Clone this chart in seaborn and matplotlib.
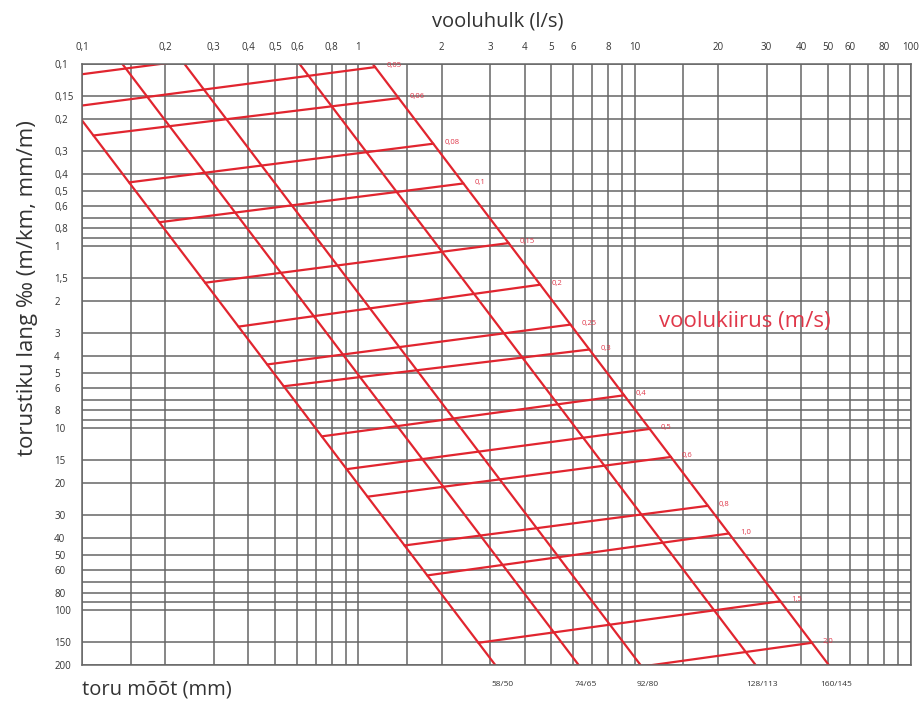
import numpy as np
import pandas as pd
import seaborn as sns
import matplotlib
matplotlib.use("Agg")
import matplotlib.pyplot as plt
from matplotlib.ticker import NullFormatter

# pipe lines (outer/inner mm), read as flow (l/s) at 0.1 and 200 per mille
pipe_labels = ["58/50", "74/65", "92/80", "128/113", "160/145"]
q_at_top = [0.070, 0.140, 0.235, 0.613, 1.128]
q_at_bottom = [3.13, 6.27, 10.5, 27.4, 50.4]

# velocity lines (m/s): gradient where they meet the first and last pipe line
vel_labels = ["", "0,05", "0,06", "0,08", "0,1", "0,15", "0,2", "0,25", "0,3",
              "0,4", "0,5", "0,6", "0,8", "1,0", "1,5", "2,0"]
j_right = [0.0726, 0.104, 0.154, 0.274, 0.453, 0.963, 1.63, 2.70, 3.70,
           6.60, 10.1, 14.4, 26.7, 37.9, 89.3, 151]
j_left = [0.120, 0.172, 0.247, 0.447, 0.740, 1.59, 2.77, 4.47, 5.89,
          11.1, 16.8, 23.8, 44.1, 64.4, 151, 257]

x_ticks = [0.1, 0.2, 0.3, 0.4, 0.5, 0.6, 0.8, 1, 2, 3, 4, 5, 6, 8, 10,
           20, 30, 40, 50, 60, 80, 100]
x_extra = [0.15, 0.7, 0.9, 1.5, 7, 9, 15, 70, 90]
y_ticks = [0.1, 0.15, 0.2, 0.3, 0.4, 0.5, 0.6, 0.8, 1, 1.5, 2, 3, 4, 5, 6, 8,
           10, 15, 20, 30, 40, 50, 60, 80, 100, 150, 200]
y_extra = [0.7, 0.9, 7, 9, 70, 90]

J_MIN, J_MAX = 0.1, 200
RED = "#e1252f"
LABEL_RED = "#e0384a"
GRID = "#666666"
TXT = "#333333"


def fmt(v):
    s = f"{v:g}"
    return s.replace(".", ",")


def q_on_pipe(i, j):
    """flow on pipe line i at gradient j (straight in log-log)"""
    t = (np.log10(j) - np.log10(J_MIN)) / (np.log10(J_MAX) - np.log10(J_MIN))
    lq = np.log10(q_at_top[i]) + t * (np.log10(q_at_bottom[i]) - np.log10(q_at_top[i]))
    return 10 ** lq


rows = []
for i, lab in enumerate(pipe_labels):
    rows.append(("d" + lab, q_at_top[i], J_MIN))
    rows.append(("d" + lab, q_at_bottom[i], J_MAX))
for k in range(len(vel_labels)):
    rows.append(("v%d" % k, q_on_pipe(0, j_left[k]), j_left[k]))
    rows.append(("v%d" % k, q_on_pipe(len(pipe_labels) - 1, j_right[k]), j_right[k]))
df = pd.DataFrame(rows, columns=["line", "Q", "J"])

sns.set_theme(style="white")
plt.rcParams["font.family"] = ["Open Sans", "DejaVu Sans"]

fig = plt.figure(figsize=(9.2, 7.02), dpi=100)
ax = fig.add_axes([82 / 920, 1 - 665 / 702, 829 / 920, 601 / 702])
ax.set_xscale("log")
ax.set_yscale("log")

sns.lineplot(data=df, x="Q", y="J", units="line", estimator=None, sort=False,
             color=RED, lw=1.6, legend=False, ax=ax)

ax.set_xlim(0.1, 100)
ax.set_ylim(J_MAX, J_MIN)

ax.set_xticks(x_ticks)
ax.set_xticklabels([fmt(v) for v in x_ticks])
ax.set_xticks(x_extra, minor=True)
ax.set_yticks(y_ticks)
ax.set_yticklabels([fmt(v) for v in y_ticks])
ax.set_yticks(y_extra, minor=True)
ax.xaxis.set_minor_formatter(NullFormatter())
ax.yaxis.set_minor_formatter(NullFormatter())
ax.xaxis.tick_top()
ax.tick_params(which="both", length=0)
ax.tick_params(axis="x", pad=8, labelsize=7, labelcolor=TXT)
ax.tick_params(axis="y", pad=20, labelsize=7, labelcolor=TXT)
for t in ax.get_yticklabels():
    t.set_ha("left")
ax.set_xlabel("")
ax.set_ylabel("")
ax.grid(True, which="both", color=GRID, lw=1.1)
for s in ax.spines.values():
    s.set_color(GRID)
    s.set_linewidth(1.1)

# velocity labels at the right end of each velocity line
for k, lab in enumerate(vel_labels):
    if lab and j_right[k] >= J_MIN:
        qr = q_on_pipe(len(pipe_labels) - 1, j_right[k])
        ax.annotate(lab, (qr, j_right[k]), xytext=(8, 1), textcoords="offset points",
                    ha="left", va="center", fontsize=5.5, color=LABEL_RED)

# pipe size labels under the bottom edge
for i, lab in enumerate(pipe_labels):
    ax.annotate(lab, (q_at_bottom[i], J_MAX), xytext=(5, -14), textcoords="offset points",
                ha="center", va="center", fontsize=6, color=TXT,
                annotation_clip=False)

ax.text(0.80, 0.572, "voolukiirus (m/s)", transform=ax.transAxes, ha="center",
        va="center", fontsize=16, color=LABEL_RED)
fig.text(498 / 920, 1 - 22 / 702, "vooluhulk (l/s)", ha="center", va="center",
         fontsize=14.5, color=TXT)
fig.text(28 / 920, 1 - 288 / 702, "torustiku lang \u2030 (m/km, mm/m)", rotation=90,
         ha="center", va="center", fontsize=16, color=TXT)
fig.text(82 / 920, 1 - 690 / 702, "toru mõõt (mm)", ha="left", va="center",
         fontsize=14.5, color=TXT)

fig.savefig("out.png", dpi=100)
